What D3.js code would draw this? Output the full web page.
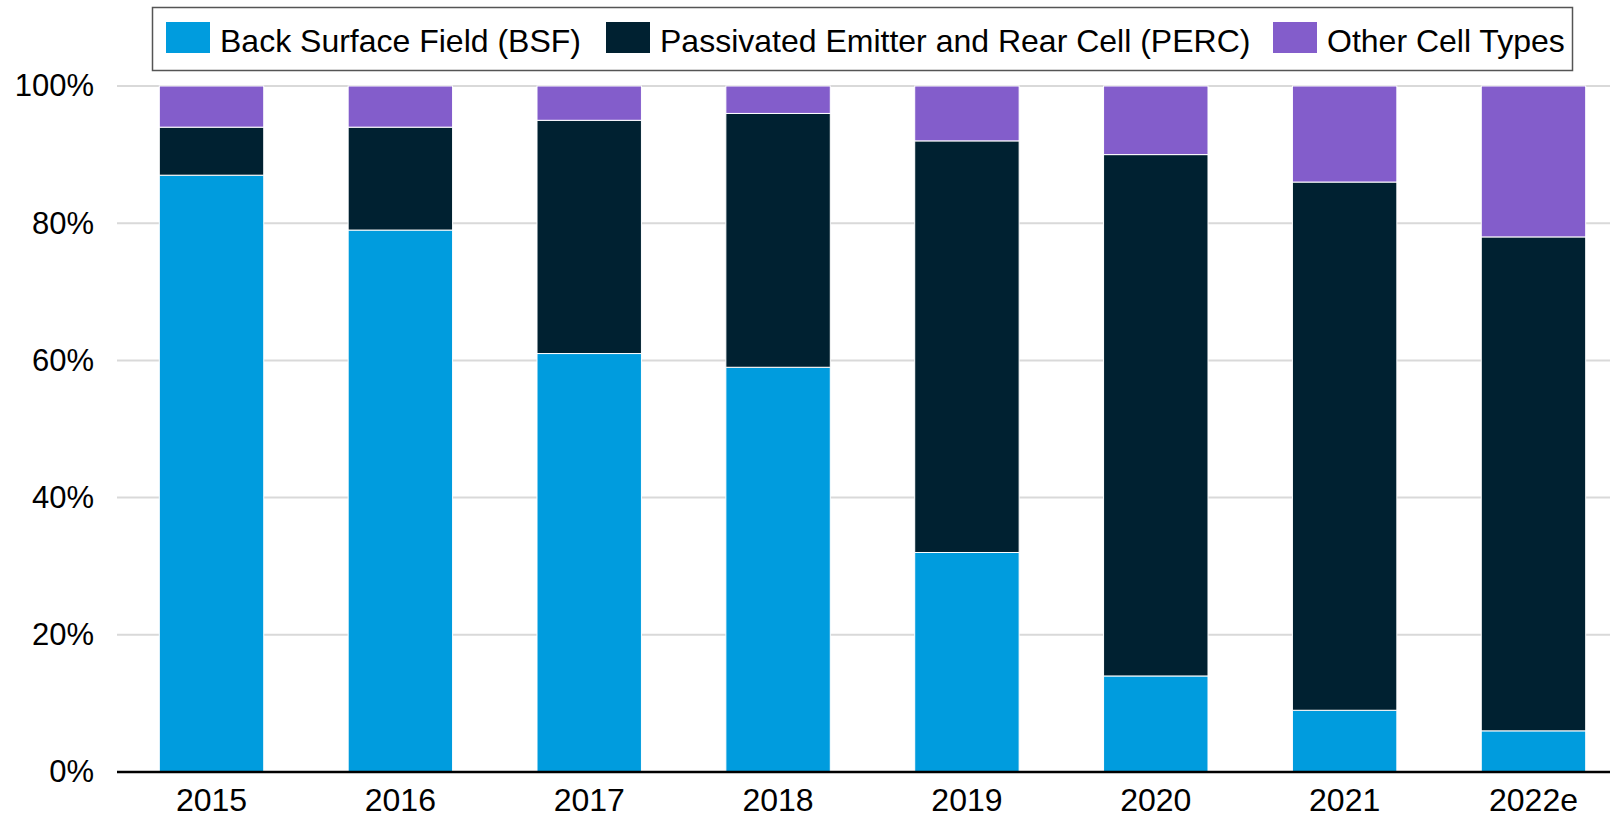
<!DOCTYPE html>
<html>
<head>
<meta charset="utf-8">
<script src="https://cdn.jsdelivr.net/npm/d3@7"></script>
<style>
  html, body { margin: 0; padding: 0; background: #fff; }
  svg { display: block; font-family: "Liberation Sans", Arial, sans-serif; }
</style>
</head>
<body>
<svg width="1610" height="818"></svg>
<script>
const years = ["2015", "2016", "2017", "2018", "2019", "2020", "2021", "2022e"];
const bsf   = [87, 79, 61, 59, 32, 14, 9, 6];
const perc  = [7, 15, 34, 37, 60, 76, 77, 72];
const other = [6, 6, 5, 4, 8, 10, 14, 22];

const seriesNames = ["Back Surface Field (BSF)", "Passivated Emitter and Rear Cell (PERC)", "Other Cell Types"];
const seriesKeys = ["bsf", "perc", "other"];
const yTicks = [0, 20, 40, 60, 80, 100];

const svg = d3.select("svg"),
    width = +svg.attr("width"),
    height = +svg.attr("height");

const color = d3.scaleOrdinal(seriesKeys, ["#009cde", "#002131", "#835dcb"]);

const rows = years.map((y, i) => ({year: y, bsf: bsf[i], perc: perc[i], other: other[i]}));
const stacked = d3.stack().keys(seriesKeys)(rows);

const x = d3.scaleBand()
    .domain(years)
    .range([117, 1628])
    .paddingInner(0.447)
    .paddingOuter(0.224);

const y = d3.scaleLinear()
    .domain([0, 100])
    .range([772, 86]);

// grid
svg.append("g")
    .selectAll("line")
    .data(yTicks.filter(d => d > 0))
    .join("line")
    .attr("x1", 117)
    .attr("x2", width)
    .attr("y1", d => y(d))
    .attr("y2", d => y(d))
    .attr("stroke", "#d9d9d9")
    .attr("stroke-width", 2);

// bars
svg.append("g")
    .selectAll("g")
    .data(stacked)
    .join("g")
    .attr("fill", d => color(d.key))
    .selectAll("rect")
    .data(d => d)
    .join("rect")
    .attr("x", d => x(d.data.year))
    .attr("width", x.bandwidth())
    .attr("y", d => y(d[1]))
    .attr("height", d => y(d[0]) - y(d[1]))
    .attr("stroke", "#ffffff")
    .attr("stroke-width", 1);

// x axis
const xAxis = svg.append("g")
    .attr("transform", `translate(0,${y(0)})`)
    .call(d3.axisBottom(x).tickSize(0).tickPadding(16));
xAxis.select(".domain")
    .attr("d", `M117,0H${width}`)
    .attr("stroke", "#000")
    .attr("stroke-width", 2.5);
xAxis.selectAll("text")
    .attr("font-size", 32)
    .attr("fill", "#000")
    .attr("font-family", "Liberation Sans, Arial, sans-serif");

// y axis
const yAxis = svg.append("g")
    .attr("transform", "translate(94,0)")
    .call(d3.axisLeft(y).tickValues(yTicks).tickSize(0).tickPadding(0).tickFormat(d => d + "%"));
yAxis.select(".domain").remove();
yAxis.selectAll("text")
    .attr("font-size", 31)
    .attr("fill", "#000")
    .attr("font-family", "Liberation Sans, Arial, sans-serif");

// legend
const legend = svg.append("g");
legend.append("rect")
    .attr("x", 152.5)
    .attr("y", 7.5)
    .attr("width", 1420)
    .attr("height", 63)
    .attr("fill", "#fff")
    .attr("stroke", "#555")
    .attr("stroke-width", 1.5);

const legendX = [166, 606, 1273];
const item = legend.selectAll("g.item")
    .data(seriesKeys)
    .join("g")
    .attr("class", "item")
    .attr("transform", (d, i) => `translate(${legendX[i]},0)`);
item.append("rect")
    .attr("x", 0)
    .attr("y", 22)
    .attr("width", 44)
    .attr("height", 31)
    .attr("fill", d => color(d));
item.append("text")
    .attr("x", 54)
    .attr("y", 52)
    .attr("font-size", 32)
    .attr("fill", "#000")
    .text((d, i) => seriesNames[i]);
</script>
</body>
</html>
